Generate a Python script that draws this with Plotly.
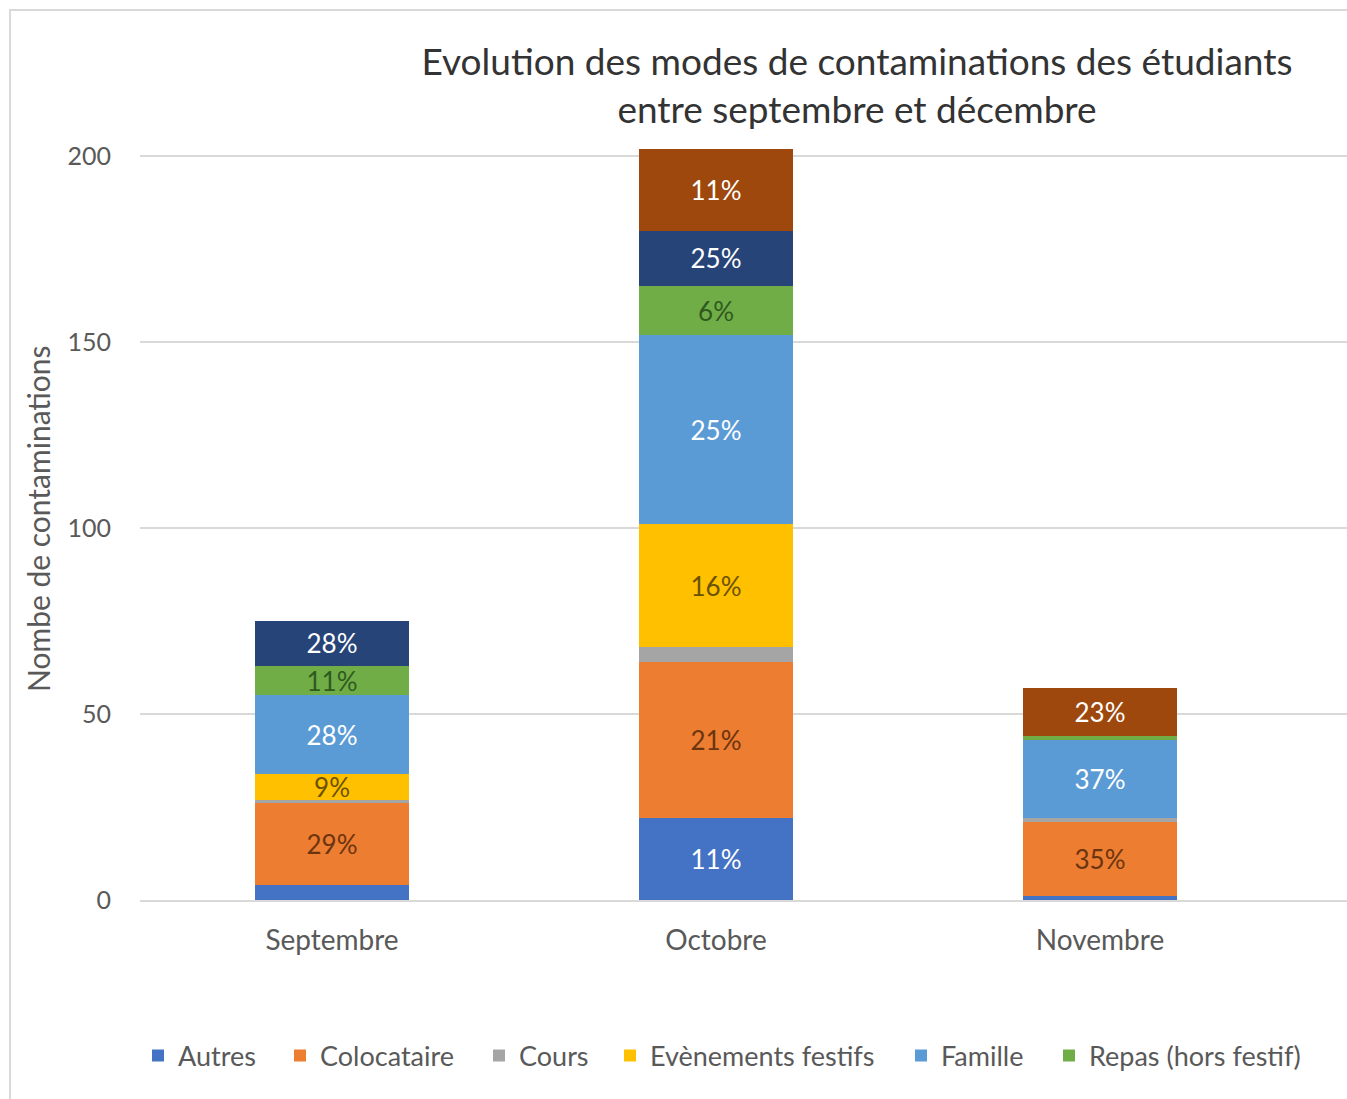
import plotly.graph_objects as go

# ---------------- data ----------------
months = ["Septembre", "Octobre", "Novembre"]

series_names = ["Autres", "Colocataire", "Cours", "Evènements festifs",
                "Famille", "Repas (hors festif)", "Sport", "Travail"]

autres      = [4, 22, 1]
colocataire = [22, 42, 20]
cours       = [1, 4, 1]
evenements  = [7, 33, 0]
famille     = [21, 51, 21]
repas       = [8, 13, 1]
sport       = [12, 15, 0]
travail     = [0, 22, 13]

labels_autres      = ["", "11%", ""]
labels_colocataire = ["29%", "21%", "35%"]
labels_cours       = ["", "", ""]
labels_evenements  = ["9%", "16%", ""]
labels_famille     = ["28%", "25%", "37%"]
labels_repas       = ["11%", "6%", ""]
labels_sport       = ["28%", "25%", ""]
labels_travail     = ["", "11%", "23%"]

y_ticks = [0, 50, 100, 150, 200]

# ---------------- styling ----------------
colors = ["#4472C4", "#ED7D31", "#A5A5A5", "#FFC000",
          "#5B9BD5", "#70AD47", "#264478", "#9E480E"]
label_colors = ["#FFFFFF", "#6B3410", "#404040", "#6B5200",
                "#FFFFFF", "#2F5A1E", "#FFFFFF", "#FFFFFF"]
# left pixel of each legend marker (None = entry lies beyond the visible area)
legend_left_px = [150, 292, 491, 622, 913, 1061, None, None]

values = [autres, colocataire, cours, evenements, famille, repas, sport, travail]
labels = [labels_autres, labels_colocataire, labels_cours, labels_evenements,
          labels_famille, labels_repas, labels_sport, labels_travail]

FONT = "Lato, 'Open Sans', sans-serif"
GREY = "#595959"

W, H = 1347, 1099
L, R, T, B = 140, 0, 119, 199
PW, PH = W - L - R, H - T - B


def px_x(px):
    return (px - L) / PW


def px_y(py):
    return (H - B - py) / PH


fig = go.Figure()
legend_layouts = {}
for i, (name, vals, txt, col, tcol, lpx) in enumerate(
        zip(series_names, values, labels, colors, label_colors, legend_left_px)):
    leg_id = "legend" if i == 0 else f"legend{i + 1}"
    fig.add_trace(go.Bar(
        name=name, x=months, y=vals, text=txt,
        marker=dict(color=col, line=dict(width=0)),
        textposition="inside", insidetextanchor="middle", textangle=0,
        constraintext="none",
        textfont=dict(family=FONT, size=26, color=tcol),
        showlegend=lpx is not None, legend=leg_id, width=0.4,
    ))
    if lpx is not None:
        legend_layouts[leg_id] = dict(
            orientation="h", x=px_x(lpx - 12), xanchor="left",
            y=px_y(1056), yanchor="middle",
            font=dict(family=FONT, size=27, color=GREY),
            bgcolor="rgba(0,0,0,0)", borderwidth=0,
        )

fig.update_layout(
    barmode="stack",
    width=W, height=H,
    margin=dict(l=L, r=R, t=T, b=B, pad=0),
    paper_bgcolor="white", plot_bgcolor="white",
    font=dict(family=FONT, color=GREY),
    title=dict(
        text="Evolution des modes de contaminations des étudiants<br>entre septembre et décembre",
        x=857 / W, xanchor="center", xref="container",
        y=1 - 75 / H, yanchor="middle", yref="container",
        font=dict(family=FONT, size=37, color="#333333"),
    ),
    xaxis=dict(
        type="category", categoryorder="array", categoryarray=months,
        range=[-0.5, -0.5 + PW / 384.0],
        showgrid=False, showline=True, linecolor="#D9D9D9", linewidth=1.5,
        ticks="", tickfont=dict(family=FONT, size=28, color=GREY),
        ticklabelstandoff=15, fixedrange=True,
    ),
    yaxis=dict(
        range=[0, 210], tickvals=y_ticks, ticktext=[str(v) for v in y_ticks],
        showgrid=True, gridcolor="#D9D9D9", gridwidth=1.5,
        zeroline=False, showline=False, ticks="",
        tickfont=dict(family=FONT, size=25, color=GREY),
        ticklabelstandoff=28, fixedrange=True,
    ),
    showlegend=True,
    **legend_layouts,
)

# y-axis title
fig.add_annotation(
    text="Nombe de contaminations", textangle=-90,
    xref="paper", yref="paper", x=px_x(38), y=px_y(519),
    xanchor="center", yanchor="middle", showarrow=False,
    font=dict(family=FONT, size=30, color=GREY),
)

# chart-area border (cropped on the right / bottom as in the reference)
fig.add_shape(
    type="rect", xref="paper", yref="paper",
    x0=px_x(10), x1=px_x(W + 20), y0=px_y(H + 20), y1=px_y(10),
    line=dict(color="#D9D9D9", width=2), fillcolor="rgba(0,0,0,0)",
    layer="below",
)

fig.write_html("out.html", config={"displayModeBar": False},
               post_script="document.body.style.margin='0';")
